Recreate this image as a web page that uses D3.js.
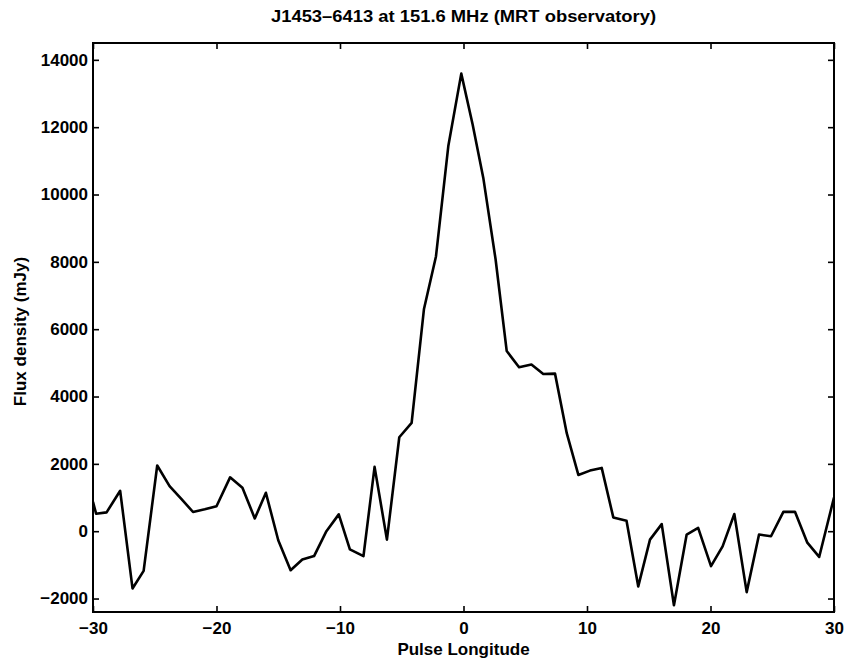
<!DOCTYPE html>
<html>
<head>
<meta charset="utf-8">
<script src="https://cdn.jsdelivr.net/npm/d3@7"></script>
<style>
  body { margin: 0; background: #fff; }
  text { font-family: "Liberation Sans", Arial, sans-serif; font-weight: bold; fill: #000; }
</style>
</head>
<body>
<div id="chart"></div>
<script>
// pulse longitude (deg) and flux density (mJy)
var longitude = [-30, -29.75, -28.9, -27.8, -26.8, -25.9, -24.8, -23.8, -22.85, -21.9,
  -20.95, -20.0, -18.9, -17.9, -16.9, -16.0, -15.0, -14.0, -13.05, -12.1,
  -11.1, -10.1, -9.2, -8.1, -7.2, -6.2, -5.2, -4.2, -3.2, -2.23,
  -1.23, -0.18, 0.74, 1.6, 2.6, 3.5, 4.5, 5.5, 6.46, 7.41,
  8.36, 9.3, 10.24, 11.19, 12.13, 13.2, 14.15, 15.1, 16.05, 17.04,
  18.07, 19.0, 20.04, 20.98, 21.93, 22.93, 23.93, 24.9, 25.9, 26.84,
  27.84, 28.8, 30];
var flux = [870, 520, 560, 1200, -1700, -1180, 1950, 1340, 960, 570,
  650, 740, 1600, 1290, 380, 1140, -270, -1160, -840, -740,
  0, 500, -540, -740, 1910, -250, 2790, 3220, 6600, 8160,
  11440, 13590, 12080, 10500, 8070, 5350, 4870, 4950, 4670, 4680,
  2910, 1670, 1800, 1880, 410, 310, -1640, -250, 210, -2200,
  -100, 100, -1040, -450, 510, -1810, -100, -150, 575, 575,
  -340, -765, 1000];

var xTicks = [-30, -20, -10, 0, 10, 20, 30];
var yTicks = [-2000, 0, 2000, 4000, 6000, 8000, 10000, 12000, 14000];

var titleText = "J1453\u20136413 at 151.6 MHz (MRT observatory)";
var xLabel = "Pulse Longitude";
var yLabel = "Flux density  (mJy)";

// set the dimensions and margins of the graph
var margin = {top: 43, right: 12, bottom: 49, left: 93},
width = 846 - margin.left - margin.right,
height = 661 - margin.top - margin.bottom;

var svg = d3.select("#chart")
  .append("svg")
  .attr("width", 846)
  .attr("height", 661)
  .append("g")
  .attr("transform", "translate(" + margin.left + "," + margin.top + ")");

var x = d3.scaleLinear().domain([-30, 30]).range([0, width]);
var y = d3.scaleLinear().domain([-2400, 14500]).range([height, 0]);

var fmt = function(d) { return d < 0 ? "\u2212" + Math.abs(d) : "" + d; };

// bottom axis with labels, top axis just ticks
var xb = svg.append("g")
  .attr("transform", "translate(0," + height + ")")
  .call(d3.axisBottom(x).tickValues(xTicks).tickSize(-6).tickPadding(10).tickFormat(fmt));
var xt = svg.append("g")
  .call(d3.axisTop(x).tickValues(xTicks).tickSize(-6).tickFormat(""));
var yl = svg.append("g")
  .call(d3.axisLeft(y).tickValues(yTicks).tickSize(-6).tickPadding(5).tickFormat(fmt));
var yr = svg.append("g")
  .attr("transform", "translate(" + width + ",0)")
  .call(d3.axisRight(y).tickValues(yTicks).tickSize(-6).tickFormat(""));

[xb, xt, yl, yr].forEach(function(g) {
  g.select(".domain").remove();
  g.selectAll(".tick line").attr("stroke", "#000").attr("stroke-width", 1.6);
  g.selectAll(".tick text").style("font-size", "17px");
});

// frame
svg.append("rect")
  .attr("width", width)
  .attr("height", height)
  .attr("fill", "none")
  .attr("stroke", "#000")
  .attr("stroke-width", 2);

svg.append("clipPath").attr("id", "clip")
  .append("rect").attr("width", width).attr("height", height);

var pts = longitude.map(function(d, i) { return [d, flux[i]]; });

svg.append("path")
  .datum(pts)
  .attr("clip-path", "url(#clip)")
  .attr("fill", "none")
  .attr("stroke", "#000")
  .attr("stroke-width", 2.6)
  .attr("stroke-linejoin", "round")
  .attr("d", d3.line().x(function(d) { return x(d[0]); }).y(function(d) { return y(d[1]); }));

svg.append("text")
  .attr("x", width / 2)
  .attr("y", -21)
  .attr("text-anchor", "middle")
  .attr("textLength", 385)
  .attr("lengthAdjust", "spacingAndGlyphs")
  .style("font-size", "16px")
  .text(titleText);

svg.append("text")
  .attr("x", width / 2)
  .attr("y", height + 43)
  .attr("text-anchor", "middle")
  .style("font-size", "17px")
  .text(xLabel);

svg.append("text")
  .attr("transform", "rotate(-90)")
  .attr("x", -height / 2 - 4)
  .attr("y", -67)
  .attr("text-anchor", "middle")
  .style("font-size", "17px")
  .text(yLabel);
</script>
</body>
</html>
